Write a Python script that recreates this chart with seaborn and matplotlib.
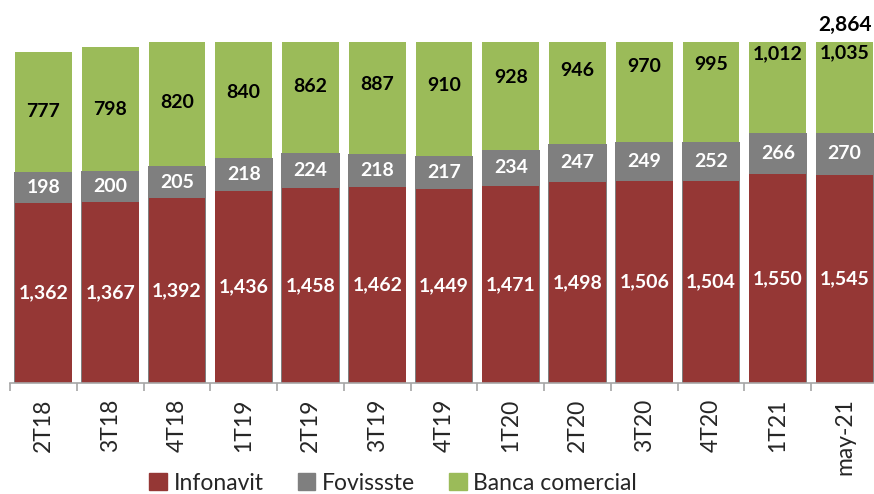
import matplotlib
matplotlib.use("Agg")
import matplotlib.pyplot as plt
import numpy as np
import pandas as pd
import seaborn as sns
from matplotlib.patches import Patch

periods = ["2T18", "3T18", "4T18", "1T19", "2T19", "3T19", "4T19",
           "1T20", "2T20", "3T20", "4T20", "1T21", "may-21"]
infonavit = [1362, 1367, 1392, 1436, 1458, 1462, 1449, 1471, 1498, 1506, 1504, 1550, 1545]
fovissste = [198, 200, 205, 218, 224, 218, 217, 234, 247, 249, 252, 266, 270]
banca = [777, 798, 820, 840, 862, 887, 910, 928, 946, 970, 995, 1012, 1035]
total_last = "2,864"

COLORS = {"infonavit": "#953735", "fovissste": "#7F7F7F", "banca": "#9BBB59"}
Y_MIN, Y_MAX = 200, 2400

sns.set_theme(style="white")
plt.rcParams["font.family"] = ["Lato", "DejaVu Sans"]

df = pd.DataFrame({"periodo": periods, "infonavit": infonavit,
                   "fovissste": fovissste, "banca": banca})
df["lvl2"] = df["infonavit"] + df["fovissste"]
df["lvl3"] = df["lvl2"] + df["banca"]

fig = plt.figure(figsize=(8.74, 4.94), dpi=100)
ax = fig.add_axes([10 / 874, 111 / 494, 868 / 874, 341 / 494])

# layered stacking: totals first, then overlay lower parts
bar_kw = dict(saturation=1, linewidth=0, ax=ax)
sns.barplot(data=df, x="periodo", y="lvl3", color=COLORS["banca"], width=0.85, **bar_kw)
sns.barplot(data=df, x="periodo", y="lvl2", color=COLORS["fovissste"], width=0.87, **bar_kw)
sns.barplot(data=df, x="periodo", y="infonavit", color=COLORS["infonavit"], width=0.85, **bar_kw)

ax.set_ylim(Y_MIN, Y_MAX)
ax.set_xlim(-0.5, len(periods) - 0.5)
ax.set_xlabel("")
ax.set_ylabel("")
ax.set_yticks([])
for side in ("top", "right", "left"):
    ax.spines[side].set_visible(False)
ax.spines["bottom"].set_color("#A6A6A6")
ax.spines["bottom"].set_linewidth(1.2)

ax.set_xticks(range(len(periods)))
ax.set_xticklabels(periods, rotation=90, fontsize=16.5)
ax.set_xticks(np.arange(-0.5, len(periods), 1), minor=True)
ax.tick_params(axis="x", which="major", length=0, pad=11)
ax.tick_params(axis="x", which="minor", length=6, width=1.2, color="#A6A6A6",
               direction="out", bottom=True)

lbl = dict(ha="center", va="center", fontweight="bold", fontsize=14)
for i, row in df.iterrows():
    ax.text(i, (Y_MIN + row["infonavit"]) / 2, f"{row['infonavit']:,}", color="white", **lbl)
    ax.text(i, row["infonavit"] + row["fovissste"] / 2, f"{row['fovissste']:,}", color="white", **lbl)
    ax.text(i, row["lvl2"] + row["banca"] / 2, f"{row['banca']:,}", color="black", **lbl)

ax.annotate(total_last, xy=(len(periods) - 1, 1.0), xycoords=("data", "axes fraction"),
            xytext=(0, 12), textcoords="offset points", ha="center", va="center",
            fontsize=15, fontweight="bold", color="black", annotation_clip=False)

handles = [Patch(color=COLORS["infonavit"], label="Infonavit"),
           Patch(color=COLORS["fovissste"], label="Fovissste"),
           Patch(color=COLORS["banca"], label="Banca comercial")]
fig.legend(handles=handles, loc="center", bbox_to_anchor=(0.45, 0.022), ncol=3,
           frameon=False, fontsize=16.5, handlelength=0.75, handleheight=0.75,
           handletextpad=0.3, columnspacing=1.5, borderaxespad=0)

fig.savefig("out.png", dpi=100)
